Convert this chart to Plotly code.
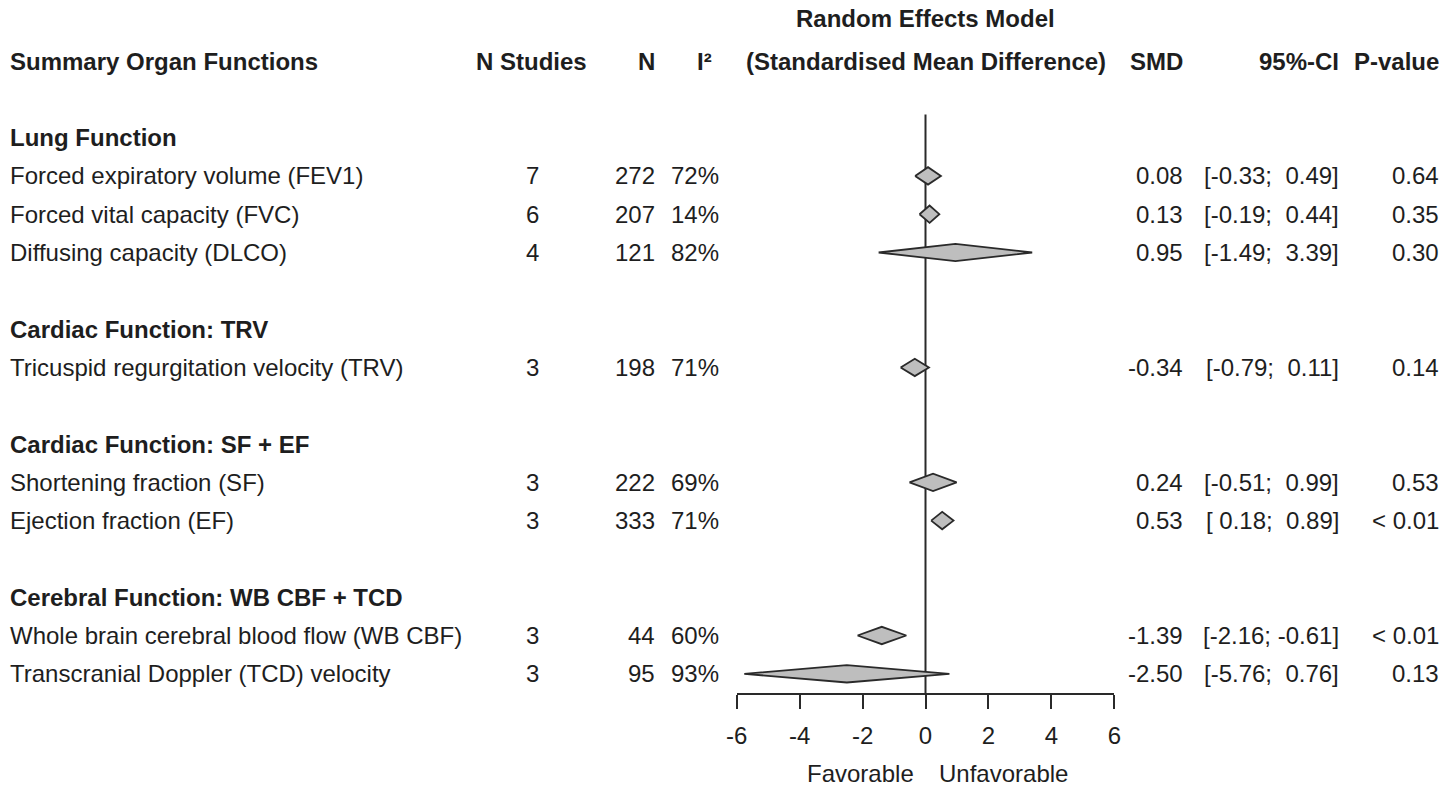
import plotly.graph_objects as go

# ---------------- data ----------------
group_names = ["Lung Function", "Cardiac Function: TRV", "Cardiac Function: SF + EF",
               "Cerebral Function: WB CBF + TCD"]
group_rows = [2, 7, 10, 14]

labels = ["Forced expiratory volume (FEV1)", "Forced vital capacity (FVC)",
          "Diffusing capacity (DLCO)", "Tricuspid regurgitation velocity (TRV)",
          "Shortening fraction (SF)", "Ejection fraction (EF)",
          "Whole brain cerebral blood flow (WB CBF)", "Transcranial Doppler (TCD) velocity"]
rows = [3, 4, 5, 8, 11, 12, 15, 16]
n_studies = [7, 6, 4, 3, 3, 3, 3, 3]
n_total = [272, 207, 121, 198, 222, 333, 44, 95]
i2 = [72, 14, 82, 71, 69, 71, 60, 93]
smd = [0.08, 0.13, 0.95, -0.34, 0.24, 0.53, -1.39, -2.50]
ci_low = [-0.33, -0.19, -1.49, -0.79, -0.51, 0.18, -2.16, -5.76]
ci_high = [0.49, 0.44, 3.39, 0.11, 0.99, 0.89, -0.61, 0.76]
p_values = ["0.64", "0.35", "0.30", "0.14", "0.53", "< 0.01", "< 0.01", "0.13"]
x_ticks = [-6, -4, -2, 0, 2, 4, 6]

# ---------------- layout constants ----------------
W, H = 1447, 786
ROW0_PX, ROW_PX = 61.0, 38.3
AXIS_PX = 693.0
FONT = "Liberation Sans, Arial, sans-serif"
FS = 24
TXT = "#1e1e1e"
LINE = "#2a2a2a"
NB = "\u00a0"


def px(x):
    return x / W


def fmt(v):
    s = f"{v:.2f}"
    return s if v < 0 else NB + s


fig = go.Figure()

# reference line at 0
fig.add_trace(go.Scatter(x=[0, 0], y=[1.4, (AXIS_PX - ROW0_PX) / ROW_PX],
                         mode="lines", line=dict(color=LINE, width=2),
                         hoverinfo="skip", showlegend=False))

# diamonds
hh = 8.7 / ROW_PX
for r, m, lo, hi in zip(rows, smd, ci_low, ci_high):
    fig.add_trace(go.Scatter(x=[lo, m, hi, m, lo], y=[r, r - hh, r, r + hh, r],
                             mode="lines", fill="toself", fillcolor="#bebebe",
                             line=dict(color=LINE, width=1.8),
                             hoverinfo="skip", showlegend=False))

ann = []


def add(text, x, r, anchor="left", bold=False, yref="y", xref="paper"):
    ann.append(dict(text=f"<b>{text}</b>" if bold else text, x=x, y=r,
                    xref=xref, yref=yref, xanchor=anchor, yanchor="middle",
                    showarrow=False, font=dict(family=FONT, size=FS, color=TXT)))


LEFT = px(8)
# headers
add("Random Effects Model", 0, (18 - ROW0_PX) / ROW_PX, "center", True, xref="x")
add("Summary Organ Functions", LEFT, 0, "left", True)
add("N Studies", px(531), 0, "center", True)
add("N", px(657), 0, "right", True)
add("I²", px(714), 0, "right", True)
add("(Standardised Mean Difference)", 0, 0, "center", True, xref="x")
add("SMD", px(1185), 0, "right", True)
add("95%-CI", px(1341), 0, "right", True)
add("P-value", px(1441), 0, "right", True)

for g, r in zip(group_names, group_rows):
    add(g, LEFT, r, "left", True)

for i, r in enumerate(rows):
    add(labels[i], LEFT, r, "left")
    add(str(n_studies[i]), px(532), r, "center")
    add(str(n_total[i]), px(657), r, "right")
    add(f"{i2[i]}%", px(721), r, "right")
    add(f"{smd[i]:.2f}", px(1185), r, "right")
    add(f"[{fmt(ci_low[i])};{NB}{fmt(ci_high[i])}]", px(1341), r, "right")
    add(p_values[i], px(1441), r, "right")

# Favorable / Unfavorable
fav_y = (H - 773) / H
ann.append(dict(text="Favorable", x=0, y=fav_y, xref="x", yref="paper",
                xanchor="right", yanchor="middle", xshift=-10, showarrow=False,
                font=dict(family=FONT, size=FS, color=TXT)))
ann.append(dict(text="Unfavorable", x=0, y=fav_y, xref="x", yref="paper",
                xanchor="left", yanchor="middle", xshift=11, showarrow=False,
                font=dict(family=FONT, size=FS, color=TXT)))

fig.update_layout(
    width=W, height=H, margin=dict(l=0, r=0, t=0, b=0, pad=0, autoexpand=False),
    paper_bgcolor="white", plot_bgcolor="white",
    showlegend=False, hovermode=False, annotations=ann,
    xaxis=dict(domain=[736.7 / W, 1114.3 / W], range=[-6, 6],
               tickmode="array", tickvals=x_ticks, ticktext=[str(t) for t in x_ticks],
               ticks="outside", ticklen=14, tickwidth=2, tickcolor=LINE,
               showline=True, linecolor=LINE, linewidth=2,
               showgrid=False, zeroline=False, ticklabelstandoff=6,
               tickfont=dict(family=FONT, size=FS, color=TXT), fixedrange=True,
               automargin=False),
    yaxis=dict(domain=[(H - AXIS_PX) / H, 1],
               range=[(AXIS_PX - ROW0_PX) / ROW_PX, -ROW0_PX / ROW_PX],
               visible=False, showgrid=False, zeroline=False, fixedrange=True,
               automargin=False),
)

fig.write_html("out.html", config={"displayModeBar": False},
               post_script="document.body.style.margin='0';"
                           "document.body.style.overflow='hidden';")
